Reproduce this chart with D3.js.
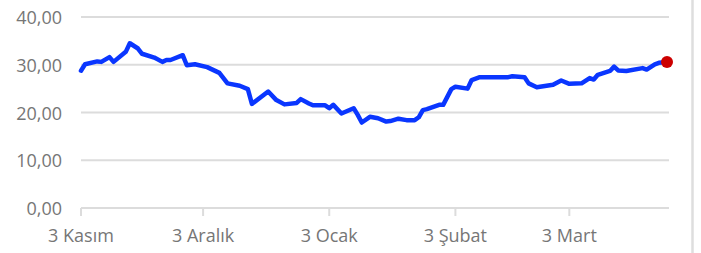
<!DOCTYPE html>
<html>
<head>
    <meta charset="utf-8">
    <script src="https://cdnjs.cloudflare.com/ajax/libs/d3/7.8.5/d3.min.js"></script>
    <style>
        body {
            margin: 0;
            background: #fff;
            overflow: hidden;
        }
        .tick-label {
            fill: #767676;
            font-family: "Open Sans", sans-serif;
            font-size: 18px;
        }
        .grid {
            stroke: #dcdcdc;
            stroke-width: 2px;
        }
    </style>
</head>
<body>
    <svg id="chart"></svg>

    <script>
        const width = 701;
        const height = 253;

        // series (date, value)
        const dates = [
            "2022-11-03", "2022-11-04", "2022-11-07", "2022-11-08", "2022-11-10", "2022-11-11",
            "2022-11-14", "2022-11-15", "2022-11-17", "2022-11-18", "2022-11-21", "2022-11-23",
            "2022-11-24", "2022-11-25", "2022-11-28", "2022-11-29", "2022-12-01", "2022-12-04",
            "2022-12-07", "2022-12-09", "2022-12-12", "2022-12-14", "2022-12-15", "2022-12-19",
            "2022-12-21", "2022-12-23", "2022-12-26", "2022-12-27", "2022-12-29", "2022-12-30",
            "2023-01-02", "2023-01-03", "2023-01-04", "2023-01-06", "2023-01-09", "2023-01-10",
            "2023-01-11", "2023-01-13", "2023-01-15", "2023-01-17", "2023-01-18", "2023-01-20",
            "2023-01-22", "2023-01-24", "2023-01-25", "2023-01-26", "2023-01-27", "2023-01-30",
            "2023-01-31", "2023-02-02", "2023-02-03", "2023-02-06", "2023-02-07", "2023-02-09",
            "2023-02-16", "2023-02-17", "2023-02-20", "2023-02-21", "2023-02-23", "2023-02-27",
            "2023-03-01", "2023-03-03", "2023-03-06", "2023-03-08", "2023-03-09", "2023-03-10",
            "2023-03-13", "2023-03-14", "2023-03-15", "2023-03-17", "2023-03-21", "2023-03-22",
            "2023-03-24", "2023-03-25", "2023-03-27"
        ];
        const values = [
            28.75, 30.1, 30.7, 30.6, 31.6, 30.6,
            32.7, 34.5, 33.4, 32.3, 31.5, 30.6,
            31.0, 31.0, 32.0, 29.9, 30.1, 29.5,
            28.3, 26.1, 25.6, 24.9, 21.8, 24.4,
            22.6, 21.7, 22.0, 22.8, 21.9, 21.5,
            21.5, 20.9, 21.6, 19.8, 20.9, 19.5,
            17.9, 19.1, 18.8, 18.1, 18.2, 18.7,
            18.4, 18.4, 19.0, 20.5, 20.7, 21.6,
            21.6, 24.9, 25.4, 25.0, 26.8, 27.4,
            27.4, 27.6, 27.4, 26.1, 25.3, 25.8,
            26.7, 26.0, 26.1, 27.2, 26.9, 27.9,
            28.7, 29.6, 28.8, 28.7, 29.3, 29.0,
            30.1, 30.4, 30.6
        ];

        const yTicks = [0, 10, 20, 30, 40];
        const xTickDates = ["2022-11-03", "2022-12-03", "2023-01-03", "2023-02-03", "2023-03-03"];
        const xTickLabels = ["3 Kasım", "3 Aralık", "3 Ocak", "3 Şubat", "3 Mart"];

        const parse = d3.timeParse("%Y-%m-%d");
        const data = dates.map((d, i) => ({date: parse(d), value: values[i]}));

        const svg = d3.select("#chart")
            .attr("width", width)
            .attr("height", height);

        const x = d3.scaleTime()
            .domain([parse("2022-11-03"), parse("2023-03-27")])
            .range([81, 667]);

        const y = d3.scaleLinear()
            .domain([0, 40])
            .range([208, 17]);

        const numFmt = d3.formatLocale({decimal: ",", thousands: ".", grouping: [3], currency: ["", ""]}).format(".2f");

        // horizontal grid
        svg.append("g")
            .selectAll("line")
            .data(yTicks)
            .enter().append("line")
            .attr("class", "grid")
            .attr("x1", 81)
            .attr("x2", 669)
            .attr("y1", d => y(d))
            .attr("y2", d => y(d));

        // y labels
        svg.append("g")
            .selectAll("text")
            .data(yTicks)
            .enter().append("text")
            .attr("class", "tick-label")
            .attr("x", 62)
            .attr("y", d => y(d))
            .attr("text-anchor", "end")
            .attr("dominant-baseline", "central")
            .text(d => numFmt(d));

        // x ticks and labels
        const xt = svg.append("g")
            .selectAll("g")
            .data(xTickDates)
            .enter().append("g")
            .attr("transform", d => `translate(${x(parse(d))},0)`);

        xt.append("line")
            .attr("class", "grid")
            .attr("y1", 208)
            .attr("y2", 216);

        xt.append("text")
            .attr("class", "tick-label")
            .attr("y", 242)
            .attr("text-anchor", "middle")
            .text((d, i) => xTickLabels[i]);

        // right border
        svg.append("line")
            .attr("x1", 692.5)
            .attr("x2", 692.5)
            .attr("y1", 0)
            .attr("y2", height)
            .attr("stroke", "#dedede")
            .attr("stroke-width", 2.5);

        // series
        const line = d3.line()
            .x(d => x(d.date))
            .y(d => y(d.value));

        svg.append("path")
            .datum(data)
            .attr("d", line)
            .attr("fill", "none")
            .attr("stroke", "#0a36ff")
            .attr("stroke-width", 4.5)
            .attr("stroke-linejoin", "round")
            .attr("stroke-linecap", "round");

        const last = data[data.length - 1];
        svg.append("circle")
            .attr("cx", x(last.date))
            .attr("cy", y(last.value))
            .attr("r", 6)
            .attr("fill", "#cc0000");
    </script>
</body>
</html>
